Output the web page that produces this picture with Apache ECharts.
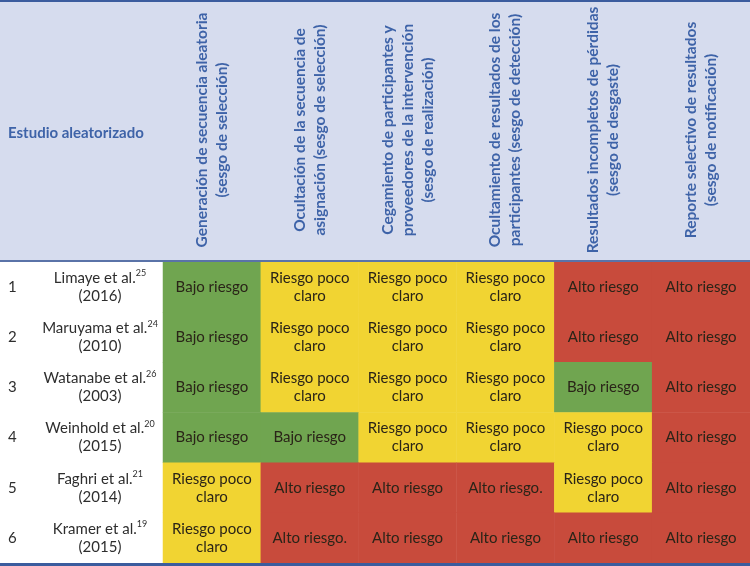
<!DOCTYPE html>
<html>
<head>
<meta charset="utf-8">
<script src="https://cdn.jsdelivr.net/npm/echarts@6/dist/echarts.min.js"></script>
<style>
  html, body { margin: 0; padding: 0; background: #fff; }
  #chart { width: 750px; height: 566px; }
</style>
</head>
<body>
<div id="chart"></div>
<script>
// columnas (dominios de sesgo)
const domains = [
  'Generación de secuencia aleatoria\n(sesgo de selección)',
  'Ocultación de la secuencia de\nasignación (sesgo de selección)',
  'Cegamiento de participantes y\nproveedores de la intervención\n(sesgo de realización)',
  'Ocultamiento de resultados de los\nparticipantes (sesgo de detección)',
  'Resultados incompletos de pérdidas\n(sesgo de desgaste)',
  'Reporte selectivo de resultados\n(sesgo de notificación)'
]
const studyNums = ['1', '2', '3', '4', '5', '6']
const studies = ['Limaye et al.', 'Maruyama et al.', 'Watanabe et al.', 'Weinhold et al.', 'Faghri et al.', 'Kramer et al.']
const refs = ['25', '24', '26', '20', '21', '19']
const years = ['2016', '2010', '2003', '2015', '2014', '2015']

// 0 = bajo riesgo, 1 = riesgo poco claro, 2 = alto riesgo
const risk = [
  [0, 1, 1, 1, 2, 2],
  [0, 1, 1, 1, 2, 2],
  [0, 1, 1, 1, 0, 2],
  [0, 0, 1, 1, 1, 2],
  [1, 2, 2, 2, 1, 2],
  [1, 2, 2, 2, 2, 2]
]
const cellText = [
  ['Bajo riesgo', 'Riesgo poco\nclaro', 'Riesgo poco\nclaro', 'Riesgo poco\nclaro', 'Alto riesgo', 'Alto riesgo'],
  ['Bajo riesgo', 'Riesgo poco\nclaro', 'Riesgo poco\nclaro', 'Riesgo poco\nclaro', 'Alto riesgo', 'Alto riesgo'],
  ['Bajo riesgo', 'Riesgo poco\nclaro', 'Riesgo poco\nclaro', 'Riesgo poco\nclaro', 'Bajo riesgo', 'Alto riesgo'],
  ['Bajo riesgo', 'Bajo riesgo', 'Riesgo poco\nclaro', 'Riesgo poco\nclaro', 'Riesgo poco\nclaro', 'Alto riesgo'],
  ['Riesgo poco\nclaro', 'Alto riesgo', 'Alto riesgo', 'Alto riesgo.', 'Riesgo poco\nclaro', 'Alto riesgo'],
  ['Riesgo poco\nclaro', 'Alto riesgo.', 'Alto riesgo', 'Alto riesgo', 'Alto riesgo', 'Alto riesgo']
]

const blue = '#3e63a8'
const font = 'Lato'

const data = []
risk.forEach((row, r) => {
  row.forEach((v, c) => {
    data.push([c, r, v, cellText[r][c]])
  })
})

const chart = echarts.init(document.getElementById('chart'))
chart.setOption({
  backgroundColor: '#fff',
  animation: false,
  title: {
    text: 'Estudio aleatorizado',
    left: 3,
    top: 121,
    textStyle: { color: blue, fontFamily: font, fontSize: 15, fontWeight: 'bold' }
  },
  graphic: [
    { type: 'rect', z: -10, shape: { x: 0, y: 0, width: 750, height: 261 }, style: { fill: '#d6dcee' } },
    { type: 'rect', z: 10, shape: { x: 0, y: 0, width: 750, height: 2 }, style: { fill: '#3b5c9e' } },
    { type: 'rect', z: 10, shape: { x: 0, y: 260, width: 750, height: 2 }, style: { fill: '#5a73a8' } },
    { type: 'rect', z: 10, shape: { x: 0, y: 563, width: 750, height: 3 }, style: { fill: '#3b5c9e' } }
  ],
  grid: { left: 163, right: 0, top: 262, bottom: 3 },
  xAxis: {
    type: 'category',
    position: 'top',
    data: domains,
    axisLine: { show: false },
    axisTick: { show: false },
    splitLine: { show: false },
    axisLabel: {
      interval: 0,
      rotate: -90,
      align: 'center',
      verticalAlign: 'middle',
      margin: 132,
      color: blue,
      fontFamily: font,
      fontSize: 15.5,
      fontWeight: 'bold',
      lineHeight: 20
    }
  },
  yAxis: [{
    type: 'category',
    inverse: true,
    data: studies,
    axisLine: { show: false },
    axisTick: { show: false },
    axisLabel: {
      align: 'center',
      margin: 63,
      formatter: (val, i) => '{a|' + val + '}{s|' + refs[i] + '}\n{a|(' + years[i] + ')}',
      rich: {
        a: { fontFamily: font, fontSize: 15, color: '#2e2e2e', lineHeight: 18 },
        s: { fontFamily: font, fontSize: 9, color: '#2e2e2e', verticalAlign: 'top', lineHeight: 18 }
      }
    }
  }, {
    type: 'category',
    inverse: true,
    position: 'left',
    data: studyNums,
    axisLine: { show: false },
    axisTick: { show: false },
    axisLabel: { align: 'left', margin: 155, fontFamily: font, fontSize: 15, color: '#2e2e2e' }
  }],
  visualMap: {
    show: false,
    type: 'piecewise',
    dimension: 2,
    pieces: [
      { value: 0, color: '#70a550' },
      { value: 1, color: '#f1d432' },
      { value: 2, color: '#c84b3c' }
    ]
  },
  series: [{
    type: 'heatmap',
    xAxisIndex: 0,
    yAxisIndex: 0,
    data: data,
    label: {
      show: true,
      formatter: p => p.data[3],
      fontFamily: font,
      fontSize: 15,
      lineHeight: 18,
      color: '#2a2418'
    },
    emphasis: { disabled: true }
  }]
})
</script>
</body>
</html>
